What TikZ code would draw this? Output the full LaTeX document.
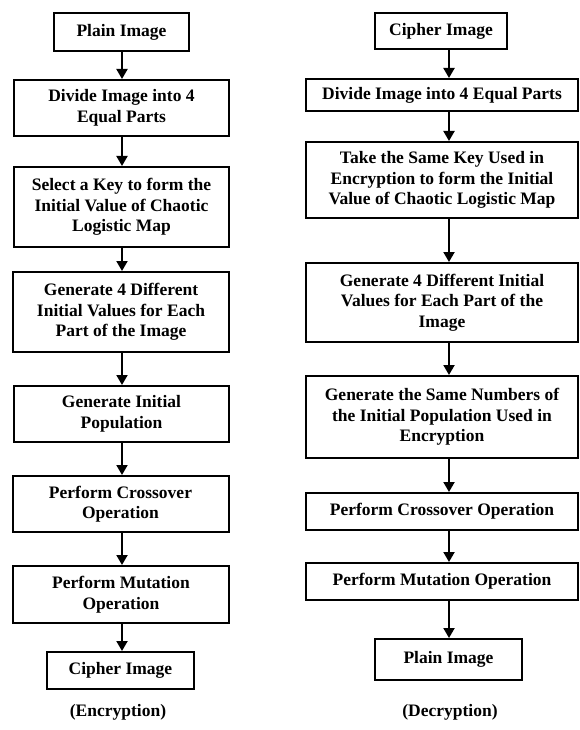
\documentclass[tikz,border=0pt]{standalone}
\usepackage{fontspec}
\setmainfont{Liberation Serif}
\usetikzlibrary{arrows.meta}
\begin{document}
\begin{tikzpicture}[x=1pt,y=-1pt,
  box/.style={draw=black,line width=2pt,rectangle,inner sep=0pt,align=center,
    font=\fontsize{17.5}{20.5}\selectfont\bfseries},
  arr/.style={line width=2pt,-{Triangle[width=11pt,length=10pt]}},
  captext/.style={font=\fontsize{17.5}{20.5}\selectfont\bfseries}]
\useasboundingbox (0,0) rectangle (579,730);
% Encryption column
\node[box,minimum width=135pt,minimum height=38pt] (L1) at (121.5,32) {Plain Image};
\node[box,minimum width=215pt,minimum height=56pt] (L2) at (121.5,108) {Divide Image into 4\\Equal Parts};
\node[box,minimum width=215pt,minimum height=80pt] (L3) at (121.5,207) {Select a Key to form the\\Initial Value of Chaotic\\Logistic Map};
\node[box,minimum width=216pt,minimum height=80pt] (L4) at (121,312) {Generate 4 Different\\Initial Values for Each\\Part of the Image};
\node[box,minimum width=215pt,minimum height=56pt] (L5) at (121.5,414) {Generate Initial\\Population};
\node[box,minimum width=216pt,minimum height=56pt] (L6) at (120.5,504) {Perform Crossover\\Operation};
\node[box,minimum width=216pt,minimum height=57pt] (L7) at (121,594.5) {Perform Mutation\\Operation};
\node[box,minimum width=147pt,minimum height=37pt] (L8) at (120.5,670.5) {Cipher Image};
\node[captext] (LC) at (118,712) {(Encryption)};
\coordinate (la) at (122,0);
\foreach \a/\b in {L1/L2,L2/L3,L3/L4,L4/L5,L5/L6,L6/L7,L7/L8}
  \draw[arr] (\a.south -| la) -- (\b.north -| la);
% Decryption column
\node[box,minimum width=132pt,minimum height=36pt] (R1) at (441,31) {Cipher Image};
\node[box,minimum width=272pt,minimum height=32pt] (R2) at (442,95) {Divide Image into 4 Equal Parts};
\node[box,minimum width=272pt,minimum height=76pt] (R3) at (442,180) {Take the Same Key Used in\\Encryption to form the Initial\\Value of Chaotic Logistic Map};
\node[box,minimum width=272pt,minimum height=79pt] (R4) at (442,302.5) {Generate 4 Different Initial\\Values for Each Part of the\\Image};
\node[box,minimum width=272pt,minimum height=82pt] (R5) at (442,417) {Generate the Same Numbers of\\the Initial Population Used in\\Encryption};
\node[box,minimum width=272pt,minimum height=37pt] (R6) at (442,511.5) {Perform Crossover Operation};
\node[box,minimum width=272pt,minimum height=37pt] (R7) at (442,581.5) {Perform Mutation Operation};
\node[box,minimum width=147pt,minimum height=41pt] (R8) at (448.5,659.5) {Plain Image};
\node[captext] (RC) at (450,712) {(Decryption)};
\coordinate (ra) at (449,0);
\foreach \a/\b in {R1/R2,R2/R3,R3/R4,R4/R5,R5/R6,R6/R7,R7/R8}
  \draw[arr] (\a.south -| ra) -- (\b.north -| ra);
\end{tikzpicture}
\end{document}
